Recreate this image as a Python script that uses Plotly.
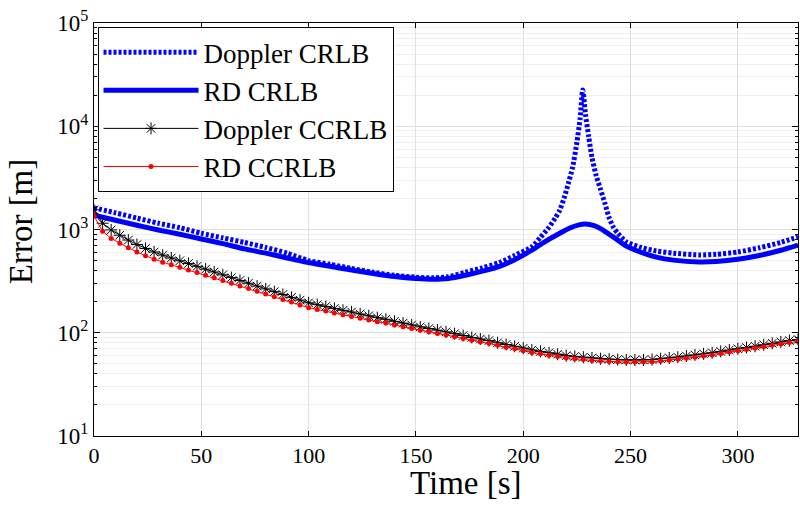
import plotly.graph_objects as go

# ---------------- data ----------------
t_dop_crlb = [0, 10, 20, 30, 40, 50, 60, 70, 80, 90, 100, 110, 120, 130, 140, 150, 158, 165,
              173, 181, 189, 196, 204, 208, 212, 215, 217, 219.3, 221, 223, 225, 226.5, 227.7,
              229, 230.5, 232, 234, 236, 238, 240, 242, 244, 248, 255, 262, 270, 282, 290, 300,
              310, 320, 328]
dop_crlb = [1620, 1450, 1290, 1150, 1040, 920, 830, 750, 670, 590, 500, 460, 420, 385, 360, 345, 340, 348,
            385, 425, 480, 560, 680, 840, 1050, 1300, 1540, 2100, 2800, 4000, 7000, 12000, 22500,
            13000, 7900, 5000, 3300, 2450, 1800, 1300, 1050, 920, 760, 670, 620, 590, 567, 575, 605,
            665, 750, 850]

t_rd_crlb = [0, 10, 20, 30, 40, 50, 60, 70, 80, 90, 98, 110, 120, 130, 140, 150, 158, 165,
             173, 181, 189, 196, 204, 210, 217, 222, 226, 229, 233, 236, 240, 244, 248, 255,
             262, 270, 282, 290, 300, 310, 320, 328]
rd_crlb = [1380, 1230, 1100, 990, 900, 810, 730, 650, 590, 530, 487, 440, 405, 375, 350, 335, 330, 335,
           360, 395, 440, 510, 630, 760, 920, 1040, 1110, 1130, 1090, 1020, 900, 790, 690, 600,
           540, 505, 485, 490, 515, 560, 630, 707]

t_cc = list(range(0, 329, 4))
dop_ccrlb = [1550, 1150, 990, 880, 790, 715, 655, 605, 565, 530, 498, 468, 440, 413, 388, 364, 342,
             321, 302, 283, 266, 250, 235, 220, 207, 195, 187, 180, 172, 165, 159, 152, 146, 140,
             135, 129, 124, 119, 114, 110, 106, 102, 98, 94, 90, 87, 84, 80, 77, 74, 71, 68, 66,
             64, 62, 60, 59, 58, 57, 56, 55.5, 55, 54.5, 54.5, 54.5, 55, 56, 57, 58, 59.5, 61,
             62.5, 64, 66, 68, 70, 72, 74, 76.5, 79, 81.5, 84, 86]
rd_ccrlb = [1350, 960, 820, 735, 665, 605, 556, 516, 483, 455, 430, 406, 383, 361, 341, 321, 302,
            284, 268, 252, 237, 223, 210, 198, 186, 175, 168, 162, 155, 149, 144, 138, 133, 128,
            124, 119, 114, 110, 106, 102, 98.5, 95, 91.5, 88, 84.5, 81.5, 79, 75.5, 72.5, 70, 67,
            64.5, 62.5, 60.5, 59, 57, 56, 55, 54, 53.2, 52.8, 52.3, 52, 52, 52, 52.5, 53.3, 54.3,
            55.3, 56.7, 58, 59.5, 61, 63, 65, 67, 69, 71, 73, 75.5, 78, 80.5, 82.5]

x_ticks = [0, 50, 100, 150, 200, 250, 300]
y_ticks = [10, 100, 1000, 10000, 100000]
y_tick_text = ["10<sup>1</sup>", "10<sup>2</sup>", "10<sup>3</sup>", "10<sup>4</sup>", "10<sup>5</sup>"]
y_minor = [m * d for d in (10, 100, 1000, 10000) for m in range(2, 10)]

names = ["Doppler CRLB", "RD CRLB", "Doppler CCRLB", "RD CCRLB"]
x_title = "Time [s]"
y_title = "Error [m]"

# ---------------- figure ----------------
SERIF = "Liberation Serif, Times New Roman, serif"
fig = go.Figure()

fig.add_trace(go.Scatter(x=t_dop_crlb, y=dop_crlb, mode="lines", name=names[0],
                         line=dict(color="#0000ff", width=5, dash="3px,2px", shape="spline",
                                   smoothing=0.6)))
fig.add_trace(go.Scatter(x=t_rd_crlb, y=rd_crlb, mode="lines", name=names[1],
                         line=dict(color="#0000ff", width=5, shape="spline", smoothing=0.6)))
fig.add_trace(go.Scatter(x=t_cc, y=dop_ccrlb, mode="lines+markers", name=names[2],
                         line=dict(color="black", width=1),
                         marker=dict(symbol="asterisk-open", size=10,
                                     line=dict(color="black", width=1), color="black")))
fig.add_trace(go.Scatter(x=t_cc, y=rd_ccrlb, mode="lines+markers", name=names[3],
                         line=dict(color="#ff0000", width=1),
                         marker=dict(symbol="circle", size=5, color="#ff0000")))

grid = "#e0e0e0"
PLOT_L, PLOT_W = 94, 704
fig.update_layout(
    width=800, height=507,
    margin=dict(l=PLOT_L, r=2, t=23, b=71),
    paper_bgcolor="white", plot_bgcolor="white",
    font=dict(family=SERIF, color="black", size=22),
    showlegend=True,
    legend=dict(x=0.005, y=0.99, xanchor="left", yanchor="top",
                bgcolor="white", bordercolor="black", borderwidth=1,
                font=dict(family=SERIF, size=27, color="black"),
                itemwidth=95, tracegroupgap=0),
    annotations=[
        dict(text=x_title, xref="paper", yref="paper",
             x=(466 - PLOT_L) / PLOT_W, y=-0.115, xanchor="center", yanchor="middle",
             showarrow=False, font=dict(family=SERIF, size=33, color="black")),
        dict(text=y_title, xref="paper", yref="paper", textangle=-90,
             x=(21 - PLOT_L) / PLOT_W, y=0.52, xanchor="center", yanchor="middle",
             showarrow=False, font=dict(family=SERIF, size=33, color="black")),
    ],
)
fig.update_xaxes(
    range=[0, 328], tickvals=x_ticks, ticktext=[str(v) for v in x_ticks],
    showline=True, linecolor="black", linewidth=1, mirror="allticks",
    ticks="inside", ticklen=5, tickcolor="black",
    showgrid=True, gridcolor=grid, gridwidth=1, zeroline=False,
    tickfont=dict(family=SERIF, size=22),
)
fig.update_yaxes(
    type="log", range=[1, 5], tickvals=y_ticks, ticktext=y_tick_text,
    showline=True, linecolor="black", linewidth=1, mirror="allticks",
    ticks="inside", ticklen=6, tickcolor="black",
    showgrid=True, gridcolor=grid, gridwidth=1, zeroline=False,
    minor=dict(tickvals=y_minor, ticks="inside", ticklen=3, tickcolor="black",
               showgrid=True, gridcolor="#efefef", gridwidth=1),
    tickfont=dict(family=SERIF, size=23),
)

fig.write_html("out.html")
